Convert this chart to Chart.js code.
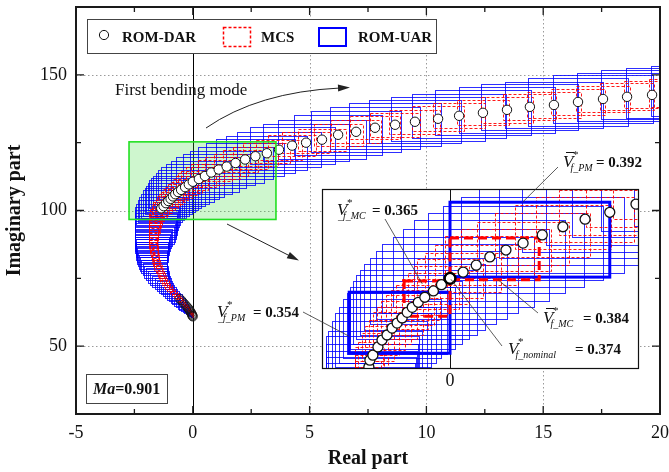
<!DOCTYPE html>
<html>
<head>
<meta charset="utf-8">
<script src="https://cdn.jsdelivr.net/npm/chart.js@4.4.1/dist/chart.umd.min.js"></script>
<style>
  html, body { margin: 0; padding: 0; background: #fff; }
  #wrap { position: relative; width: 669px; height: 472px; }
  #wrap canvas { position: absolute; left: 0; top: 0; }
</style>
</head>
<body>
<div id="wrap">
  <canvas id="mainChart" width="669" height="472"></canvas>
  <canvas id="zoomChart" width="669" height="472"></canvas>
</div>
<script>
// eigenvalue path (real / imaginary part) of the first bending mode, one entry per speed step
const speedRe = [0.00, -0.01, -0.02, -0.03, -0.05, -0.07, -0.10, -0.13, -0.16, -0.20,
  -0.25, -0.30, -0.36, -0.42, -0.49, -0.56, -0.63, -0.70, -0.78, -0.86,
  -0.93, -1.00, -1.07, -1.14, -1.21, -1.28, -1.33, -1.38, -1.42, -1.46,
  -1.50, -1.54, -1.57, -1.59, -1.61, -1.63, -1.65, -1.67, -1.68, -1.69,
  -1.70, -1.70, -1.70, -1.69, -1.68, -1.67, -1.65, -1.64, -1.63, -1.61,
  -1.59, -1.53, -1.43, -1.35, -1.25, -1.15, -1.05, -0.95, -0.85, -0.75,
  -0.63, -0.50, -0.33, -0.17, 0.00, 0.26, 0.52, 0.79, 1.11, 1.45,
  1.83, 2.24, 2.68, 3.17, 3.69, 4.25, 4.85, 5.53, 6.22, 6.99,
  7.80, 8.66, 9.51, 10.50, 11.40, 12.42, 13.45, 14.43, 15.46, 16.49,
  17.56, 18.59, 19.66, 20.74, 21.83];
const speedIm = [60.9, 61.1, 61.3, 61.6, 61.9, 62.3, 62.7, 63.1, 63.6, 64.0,
  64.5, 65.0, 65.6, 66.2, 66.9, 67.5, 68.1, 68.8, 69.5, 70.2,
  70.9, 71.6, 72.3, 73.1, 73.9, 74.7, 75.6, 76.5, 77.4, 78.4,
  79.3, 80.2, 81.1, 82.0, 82.9, 83.8, 84.7, 85.6, 86.5, 87.4,
  88.3, 89.2, 90.1, 91.0, 91.9, 92.8, 93.7, 94.6, 95.5, 96.5,
  97.6, 98.4, 99.7, 100.8, 101.6, 102.7, 103.5, 104.3, 105.2, 106.0,
  106.8, 107.6, 108.6, 109.6, 110.6, 111.6, 112.7, 114.0, 115.1, 116.2,
  117.5, 118.8, 120.0, 121.1, 122.4, 123.9, 125.0, 126.1, 127.9, 129.0,
  130.5, 131.6, 132.7, 133.8, 134.9, 136.0, 137.1, 138.2, 138.9, 140.0,
  141.1, 141.9, 142.6, 143.3, 144.0];

// ROM-UAR interval extents around each point
const uarLeft = [0.06, 0.08, 0.10, 0.12, 0.15, 0.18, 0.21, 0.24, 0.27, 0.30,
  0.33, 0.35, 0.36, 0.37, 0.38, 0.39, 0.40, 0.41, 0.42, 0.42,
  0.43, 0.44, 0.46, 0.49, 0.52, 0.56, 0.59, 0.62, 0.65, 0.68,
  0.70, 0.72, 0.74, 0.75, 0.76, 0.77, 0.77, 0.77, 0.77, 0.77,
  0.77, 0.77, 0.78, 0.79, 0.80, 0.81, 0.82, 0.83, 0.84, 0.86,
  0.88, 0.90, 0.92, 0.94, 0.96, 0.98, 1.00, 1.04, 1.08, 1.12,
  1.16, 1.20, 1.25, 1.30, 1.35, 1.40, 1.45, 1.50, 1.54, 1.58,
  1.62, 1.66, 1.70, 1.74, 1.78, 1.82, 1.85, 1.88, 1.90, 1.92,
  1.94, 1.96, 1.98, 2.00, 2.02, 2.04, 2.06, 2.08, 2.10, 2.12,
  2.14, 2.16, 2.18, 2.20, 2.22];
const uarRight = [0.00, 0.00, 0.00, 0.01, 0.01, 0.02, 0.02, 0.03, 0.04, 0.04,
  0.05, 0.06, 0.06, 0.07, 0.08, 0.08, 0.09, 0.10, 0.11, 0.12,
  0.13, 0.14, 0.17, 0.20, 0.24, 0.28, 0.30, 0.32, 0.34, 0.37,
  0.39, 0.42, 0.45, 0.48, 0.51, 0.55, 0.58, 0.62, 0.66, 0.69,
  0.73, 0.78, 0.83, 0.88, 0.92, 0.94, 0.95, 0.96, 0.97, 0.98,
  0.98, 0.98, 0.98, 0.98, 0.98, 0.98, 1.00, 1.04, 1.08, 1.12,
  1.16, 1.20, 1.25, 1.30, 1.35, 1.40, 1.45, 1.50, 1.54, 1.58,
  1.62, 1.66, 1.70, 1.74, 1.78, 1.82, 1.85, 1.88, 1.90, 1.92,
  1.94, 1.96, 1.98, 2.00, 2.02, 2.04, 2.06, 2.08, 2.10, 2.12,
  2.14, 2.16, 2.18, 2.20, 2.22];
const uarHalfIm = [0.1, 0.2, 0.3, 0.4, 0.5, 0.6, 0.7, 0.8, 0.9, 1.0,
  1.1, 1.2, 1.3, 1.4, 1.5, 1.55, 1.6, 1.65, 1.7, 1.75,
  1.8, 1.85, 1.9, 1.95, 2.0, 2.1, 2.15, 2.2, 2.3, 2.35,
  2.4, 2.5, 2.55, 2.6, 2.7, 2.75, 2.8, 2.9, 2.95, 3.0,
  3.1, 3.15, 3.2, 3.3, 3.35, 3.4, 3.5, 3.55, 3.6, 3.7,
  3.8, 3.9, 4.1, 4.3, 4.5, 4.7, 4.85, 4.9, 5.0, 5.1,
  5.2, 5.25, 5.3, 5.4, 5.5, 5.6, 5.7, 5.8, 5.85, 5.9,
  6.0, 6.1, 6.2, 6.3, 6.5, 6.7, 6.9, 7.1, 7.3, 7.5,
  7.7, 7.9, 8.0, 8.1, 8.2, 8.3, 8.4, 8.5, 8.6, 8.7,
  8.8, 8.9, 9.0, 9.1, 9.2];

// MCS half extents around each point
const mcsHalfRe = [0.02, 0.03, 0.03, 0.04, 0.04, 0.05, 0.05, 0.06, 0.06, 0.07,
  0.07, 0.08, 0.08, 0.08, 0.09, 0.09, 0.09, 0.10, 0.10, 0.10,
  0.10, 0.11, 0.11, 0.11, 0.12, 0.12, 0.12, 0.13, 0.13, 0.13,
  0.14, 0.14, 0.14, 0.15, 0.15, 0.15, 0.16, 0.16, 0.17, 0.17,
  0.18, 0.18, 0.19, 0.20, 0.21, 0.22, 0.23, 0.24, 0.26, 0.28,
  0.29, 0.30, 0.32, 0.34, 0.36, 0.38, 0.40, 0.41, 0.42, 0.43,
  0.44, 0.45, 0.50, 0.55, 0.65, 0.75, 0.82, 0.88, 0.90, 0.92,
  0.94, 0.96, 0.98, 1.00, 1.00, 1.02, 1.03, 1.04, 1.05, 1.06,
  1.07, 1.08, 1.09, 1.10, 1.10, 1.11, 1.12, 1.13, 1.14, 1.15,
  1.16, 1.17, 1.18, 1.19, 1.20];
const mcsHalfIm = [0.1, 0.15, 0.2, 0.25, 0.3, 0.35, 0.4, 0.45, 0.5, 0.55,
  0.6, 0.65, 0.7, 0.75, 0.8, 0.85, 0.9, 0.95, 1.0, 1.0,
  1.05, 1.1, 1.1, 1.15, 1.2, 1.25, 1.3, 1.3, 1.35, 1.4,
  1.4, 1.45, 1.5, 1.5, 1.55, 1.6, 1.6, 1.65, 1.7, 1.7,
  1.75, 1.8, 1.8, 1.85, 1.9, 1.9, 1.95, 1.95, 2.0, 2.0,
  2.1, 2.1, 2.2, 2.3, 2.4, 2.5, 2.6, 2.65, 2.7, 2.75,
  2.8, 2.85, 2.9, 3.0, 3.05, 3.1, 3.2, 3.3, 3.35, 3.4,
  3.45, 3.5, 3.55, 3.6, 3.7, 3.8, 3.9, 4.0, 4.1, 4.2,
  4.3, 4.4, 4.5, 4.55, 4.6, 4.65, 4.7, 4.75, 4.8, 4.85,
  4.9, 4.95, 5.0, 5.05, 5.1];

const nominalIndex = 64;
// DAR markers in the full view: the first steps and everything from Im ~ 100 upward
const darFirstSteps = 16;
const darFromStep = 53;

// boxes at the flutter speed bounds (ROM-UAR lower/upper, MCS lower/upper)
const pmReMin = [-2.00, 0.00];
const pmReMax = [0.00, 3.17];
const pmImMin = [98.7, 110.8];
const pmImMax = [108.4, 122.7];
const mcReMin = [-0.91, 0.00];
const mcReMax = [0.00, 1.77];
const mcImMin = [104.6, 110.4];
const mcImMax = [110.2, 117.0];

const pmSpeeds = [0.354, 0.392];
const mcSpeeds = [0.365, 0.384];
const nominalSpeed = 0.374;
const machNumber = 0.901;

// axes
const xRange = [-5, 20];
const yRange = [25, 175];
const xMajor = [-5, 0, 5, 10, 15, 20];
const xMinor = [-2.5, 2.5, 7.5, 12.5, 17.5];
const yMajor = [50, 100, 150];
const yMinor = [75, 125];

// zoom window shown in the main plot and the enlarged view
const boxRe = [-2.73, 3.56];
const boxIm = [96.7, 125.3];
const zoomRe = [-2.54, 3.75];
const zoomIm = [96.2, 124.8];

const SERIF = '"Liberation Serif", "Times New Roman", serif';
const points = speedRe.map((re, i) => ({ x: re, y: speedIm[i] }));
const startPoints = points.slice(0, darFirstSteps);
const darPoints = points.slice(darFromStep);

const px = (v) => Math.round(v) + 0.5;

function drawIntervals(ctx, x, y) {
  ctx.save();
  ctx.lineWidth = 1;
  ctx.setLineDash([]);
  ctx.strokeStyle = 'rgba(0,0,255,0.82)';
  speedRe.forEach((re, i) => {
    const l = px(x.getPixelForValue(re - uarLeft[i]));
    const r = px(x.getPixelForValue(re + uarRight[i]));
    const t = px(y.getPixelForValue(speedIm[i] + uarHalfIm[i]));
    const b = px(y.getPixelForValue(speedIm[i] - uarHalfIm[i]));
    ctx.strokeRect(l, t, r - l, b - t);
  });
  ctx.setLineDash([3, 2]);
  ctx.strokeStyle = 'rgba(255,0,0,0.9)';
  speedRe.forEach((re, i) => {
    const l = px(x.getPixelForValue(re - mcsHalfRe[i]));
    const r = px(x.getPixelForValue(re + mcsHalfRe[i]));
    const t = px(y.getPixelForValue(speedIm[i] + mcsHalfIm[i]));
    const b = px(y.getPixelForValue(speedIm[i] - mcsHalfIm[i]));
    ctx.strokeRect(l, t, r - l, b - t);
  });
  ctx.restore();
}

function arrowHead(ctx, fromX, fromY, toX, toY, len, half) {
  const ang = Math.atan2(toY - fromY, toX - fromX);
  ctx.beginPath();
  ctx.moveTo(toX, toY);
  ctx.lineTo(toX - len * Math.cos(ang) + half * Math.sin(ang), toY - len * Math.sin(ang) - half * Math.cos(ang));
  ctx.lineTo(toX - len * Math.cos(ang) - half * Math.sin(ang), toY - len * Math.sin(ang) + half * Math.cos(ang));
  ctx.closePath();
  ctx.fill();
}

const mainDecor = {
  id: 'mainDecor',
  beforeDatasetsDraw(chart) {
    const { ctx, chartArea: a, scales: { x, y } } = chart;
    ctx.save();
    ctx.beginPath();
    ctx.rect(a.left, a.top, a.width, a.height);
    ctx.clip();

    // dotted grid on major ticks, solid line on Re = 0
    ctx.strokeStyle = '#9a9a9a';
    ctx.lineWidth = 1;
    ctx.setLineDash([1.5, 2.5]);
    xMajor.filter(v => v !== 0).forEach(v => {
      const gx = px(x.getPixelForValue(v));
      ctx.beginPath(); ctx.moveTo(gx, a.top); ctx.lineTo(gx, a.bottom); ctx.stroke();
    });
    yMajor.forEach(v => {
      const gy = px(y.getPixelForValue(v));
      ctx.beginPath(); ctx.moveTo(a.left, gy); ctx.lineTo(a.right, gy); ctx.stroke();
    });
    ctx.setLineDash([]);
    ctx.strokeStyle = '#000';
    const x0 = px(x.getPixelForValue(0));
    ctx.beginPath(); ctx.moveTo(x0, a.top); ctx.lineTo(x0, a.bottom); ctx.stroke();

    // green zoom window fill
    const gl = x.getPixelForValue(boxRe[0]), gr = x.getPixelForValue(boxRe[1]);
    const gt = y.getPixelForValue(boxIm[1]), gb = y.getPixelForValue(boxIm[0]);
    ctx.fillStyle = 'rgba(60,220,60,0.25)';
    ctx.fillRect(gl, gt, gr - gl, gb - gt);

    drawIntervals(ctx, x, y);
    ctx.restore();
  },
  afterDatasetsDraw(chart) {
    const { ctx, chartArea: a, scales: { x, y } } = chart;
    ctx.save();

    // green zoom window border
    const gl = x.getPixelForValue(boxRe[0]), gr = x.getPixelForValue(boxRe[1]);
    const gt = y.getPixelForValue(boxIm[1]), gb = y.getPixelForValue(boxIm[0]);
    ctx.strokeStyle = '#22e022';
    ctx.lineWidth = 1.6;
    ctx.strokeRect(gl, gt, gr - gl, gb - gt);

    // frame and inward ticks on all four sides
    ctx.strokeStyle = '#1a1a1a';
    ctx.lineWidth = 2;
    ctx.strokeRect(a.left, a.top, a.width, a.height);
    ctx.lineWidth = 1.3;
    const tickX = (list, len) => list.forEach(v => {
      const tx = x.getPixelForValue(v);
      ctx.beginPath();
      ctx.moveTo(tx, a.bottom); ctx.lineTo(tx, a.bottom - len);
      ctx.moveTo(tx, a.top); ctx.lineTo(tx, a.top + len);
      ctx.stroke();
    });
    const tickY = (list, len) => list.forEach(v => {
      const ty = y.getPixelForValue(v);
      ctx.beginPath();
      ctx.moveTo(a.left, ty); ctx.lineTo(a.left + len, ty);
      ctx.moveTo(a.right, ty); ctx.lineTo(a.right - len, ty);
      ctx.stroke();
    });
    tickX(xMajor, 8); tickX(xMinor, 5);
    tickY(yMajor, 8); tickY(yMinor, 5);

    // legend
    ctx.fillStyle = '#fff';
    ctx.fillRect(87, 19, 349, 34);
    ctx.strokeStyle = '#444';
    ctx.lineWidth = 1;
    ctx.strokeRect(87.5, 19.5, 349, 34);
    ctx.strokeStyle = '#111';
    ctx.beginPath(); ctx.arc(104, 35, 4.6, 0, Math.PI * 2); ctx.stroke();
    ctx.strokeStyle = '#ff0000';
    ctx.lineWidth = 1.5;
    ctx.setLineDash([3, 2]);
    ctx.strokeRect(223.5, 27.5, 27, 19);
    ctx.setLineDash([]);
    ctx.strokeStyle = '#0000ff';
    ctx.lineWidth = 2;
    ctx.strokeRect(319, 28, 27, 18);
    ctx.fillStyle = '#111';
    ctx.font = 'bold 15px ' + SERIF;
    ctx.textBaseline = 'alphabetic';
    ctx.textAlign = 'left';
    ctx.fillText('ROM-DAR', 122, 42);
    ctx.fillText('MCS', 261, 42);
    ctx.fillText('ROM-UAR', 358, 42);

    // mode label with curved arrow
    ctx.font = '17px ' + SERIF;
    ctx.fillText('First bending mode', 115, 95);
    ctx.strokeStyle = '#222';
    ctx.lineWidth = 1;
    ctx.beginPath();
    ctx.moveTo(206, 128);
    ctx.quadraticCurveTo(258, 92, 340, 88);
    ctx.stroke();
    ctx.fillStyle = '#222';
    arrowHead(ctx, 320, 88.6, 350, 87.6, 12, 3.5);

    // arrow from zoom window to the enlarged view
    ctx.beginPath();
    ctx.moveTo(227, 224);
    ctx.lineTo(292, 257);
    ctx.stroke();
    arrowHead(ctx, 227, 224, 299, 260.5, 12, 3.5);

    // Mach number box
    ctx.fillStyle = '#fff';
    ctx.fillRect(86, 374, 81, 29);
    ctx.strokeStyle = '#444';
    ctx.strokeRect(86.5, 374.5, 81, 29);
    ctx.fillStyle = '#111';
    ctx.font = 'italic bold 16px ' + SERIF;
    ctx.fillText('Ma', 93, 394);
    const mw = ctx.measureText('Ma').width;
    ctx.font = 'bold 16px ' + SERIF;
    ctx.fillText('=' + machNumber.toFixed(3), 93 + mw, 394);
    ctx.restore();
  }
};

new Chart(document.getElementById('mainChart'), {
  type: 'scatter',
  data: {
    datasets: [{
      label: 'ROM-DAR start',
      data: startPoints,
      pointRadius: 4.5,
      pointBorderWidth: 1,
      borderColor: 'rgba(20,20,20,0.7)',
      backgroundColor: 'rgba(255,255,255,0)',
      clip: 0
    }, {
      label: 'ROM-DAR',
      data: darPoints,
      pointRadius: 4.7,
      pointBorderWidth: 1,
      borderColor: '#111',
      backgroundColor: '#fff',
      clip: 0
    }]
  },
  options: {
    responsive: false,
    animation: false,
    events: [],
    layout: { padding: { top: 7, right: 9, left: 0, bottom: 0 } },
    plugins: { legend: { display: false }, tooltip: { enabled: false } },
    scales: {
      x: {
        type: 'linear',
        min: xRange[0],
        max: xRange[1],
        afterBuildTicks: s => { s.ticks = xMajor.map(v => ({ value: v })); },
        afterFit: s => { s.height = 58; s.paddingLeft = 0; s.paddingRight = 0; },
        grid: { display: false, drawTicks: false },
        border: { display: false },
        ticks: { padding: 8, color: '#111', autoSkip: false, maxRotation: 0, font: { family: SERIF, size: 18 } },
        title: { display: true, text: 'Real part', color: '#111', padding: { top: 0, bottom: 1 }, font: { family: SERIF, size: 20, weight: 'bold' } }
      },
      y: {
        type: 'linear',
        min: yRange[0],
        max: yRange[1],
        afterBuildTicks: s => { s.ticks = yMajor.map(v => ({ value: v })); },
        afterFit: s => { s.width = 76; s.paddingTop = 0; s.paddingBottom = 0; },
        grid: { display: false, drawTicks: false },
        border: { display: false },
        ticks: { padding: 9, color: '#111', autoSkip: false, font: { family: SERIF, size: 18 } },
        title: { display: true, text: 'Imaginary part', color: '#111', padding: { top: 3, bottom: 0 }, font: { family: SERIF, size: 20, weight: 'bold' } }
      }
    }
  },
  plugins: [mainDecor]
});

// speed label: V with optional bar, star superscript and subscript, then the value
function speedLabel(ctx, vx, base, sub, eqX, value, bar) {
  ctx.fillStyle = '#111';
  ctx.textAlign = 'left';
  ctx.textBaseline = 'alphabetic';
  ctx.font = 'italic 17px ' + SERIF;
  ctx.fillText('V', vx, base);
  const vw = ctx.measureText('V').width;
  if (bar) {
    ctx.strokeStyle = '#111';
    ctx.lineWidth = 1;
    ctx.beginPath();
    ctx.moveTo(vx + 3, base - 14.5);
    ctx.lineTo(vx + vw + 1, base - 14.5);
    ctx.stroke();
  }
  ctx.font = 'italic 11px ' + SERIF;
  ctx.fillText('*', vx + vw - 1, base - 9);
  ctx.font = 'italic 10px ' + SERIF;
  ctx.fillText(sub, sub[0] === '_' ? vx + 1 : vx + vw - 3, base + 4);
  ctx.font = 'bold 15px ' + SERIF;
  ctx.fillText('= ' + value.toFixed(3), eqX, base);
}

const zoomDecor = {
  id: 'zoomDecor',
  beforeDatasetsDraw(chart) {
    const { ctx, chartArea: a, scales: { x, y } } = chart;
    ctx.save();
    ctx.fillStyle = '#fff';
    ctx.fillRect(a.left, a.top, a.width, a.height);
    ctx.beginPath();
    ctx.rect(a.left, a.top, a.width, a.height);
    ctx.clip();
    ctx.strokeStyle = '#111';
    ctx.lineWidth = 1;
    const x0 = px(x.getPixelForValue(0));
    ctx.beginPath(); ctx.moveTo(x0, a.top); ctx.lineTo(x0, a.bottom); ctx.stroke();

    drawIntervals(ctx, x, y);

    // bound boxes
    ctx.strokeStyle = '#0000ff';
    ctx.lineWidth = 3;
    pmReMin.forEach((v, i) => {
      const l = x.getPixelForValue(v), r = x.getPixelForValue(pmReMax[i]);
      const t = y.getPixelForValue(pmImMax[i]), b = y.getPixelForValue(pmImMin[i]);
      ctx.strokeRect(l, t, r - l, b - t);
    });
    ctx.strokeStyle = '#ff0000';
    ctx.setLineDash([9, 5]);
    mcReMin.forEach((v, i) => {
      const l = x.getPixelForValue(v), r = x.getPixelForValue(mcReMax[i]);
      const t = y.getPixelForValue(mcImMax[i]), b = y.getPixelForValue(mcImMin[i]);
      ctx.strokeRect(l, t, r - l, b - t);
    });
    ctx.restore();
  },
  afterDatasetsDraw(chart) {
    const { ctx, chartArea: a, scales: { x, y } } = chart;
    ctx.save();
    ctx.strokeStyle = '#111';
    ctx.lineWidth = 1.2;
    ctx.strokeRect(a.left + 0.5, a.top + 0.5, a.width - 1, a.height - 1);

    ctx.fillStyle = '#111';
    ctx.font = '18px ' + SERIF;
    ctx.textAlign = 'center';
    ctx.textBaseline = 'alphabetic';
    ctx.fillText('0', x.getPixelForValue(0), 386);

    // leader lines
    const nx = x.getPixelForValue(speedRe[nominalIndex]);
    const ny = y.getPixelForValue(speedIm[nominalIndex]);
    const leaders = [
      [558, 167, x.getPixelForValue(1.44), y.getPixelForValue(pmImMax[1])],
      [385, 219, x.getPixelForValue(-0.55), y.getPixelForValue(mcImMax[0]) + 3],
      [303, 312, x.getPixelForValue(pmReMin[0]), y.getPixelForValue(101.4)],
      [538, 313, x.getPixelForValue(0.95), y.getPixelForValue(mcImMin[1])],
      [502, 346, nx + 1, ny + 1]
    ];
    ctx.strokeStyle = '#333';
    ctx.lineWidth = 0.8;
    leaders.forEach(([x1, y1, x2, y2]) => {
      ctx.beginPath(); ctx.moveTo(x1, y1); ctx.lineTo(x2, y2); ctx.stroke();
    });

    speedLabel(ctx, 563, 167, 'f_PM', 596, pmSpeeds[1], true);
    speedLabel(ctx, 337, 215, '_f_MC', 372, mcSpeeds[0], false);
    speedLabel(ctx, 217, 317, '_f_PM', 253, pmSpeeds[0], false);
    speedLabel(ctx, 543, 323, 'f_MC', 583, mcSpeeds[1], true);
    speedLabel(ctx, 508, 354, 'f_nominal', 575, nominalSpeed, false);
    ctx.restore();
  }
};

new Chart(document.getElementById('zoomChart'), {
  type: 'scatter',
  data: {
    datasets: [{
      label: 'nominal',
      data: [points[nominalIndex]],
      pointRadius: 5.5,
      pointBorderWidth: 2.4,
      borderColor: '#000',
      backgroundColor: 'rgba(255,255,255,0)',
      clip: 0
    }, {
      label: 'ROM-DAR',
      data: points,
      pointRadius: 5,
      pointBorderWidth: 1.3,
      borderColor: '#111',
      backgroundColor: '#fff',
      clip: 0
    }]
  },
  options: {
    responsive: false,
    animation: false,
    events: [],
    layout: { padding: { left: 322, top: 189, right: 30, bottom: 103 } },
    plugins: { legend: { display: false }, tooltip: { enabled: false } },
    scales: {
      x: { type: 'linear', display: false, min: zoomRe[0], max: zoomRe[1] },
      y: { type: 'linear', display: false, min: zoomIm[0], max: zoomIm[1] }
    }
  },
  plugins: [zoomDecor]
});
</script>
</body>
</html>
